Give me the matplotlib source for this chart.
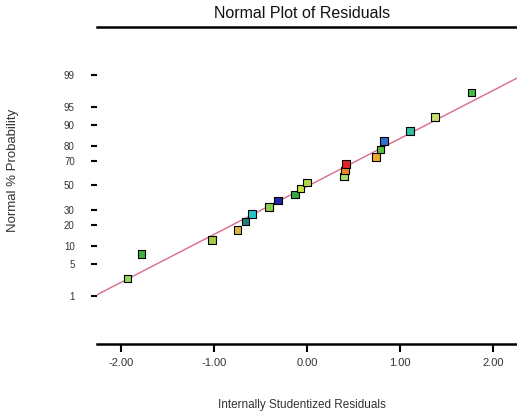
import matplotlib
matplotlib.use("Agg")
import matplotlib.pyplot as plt
import numpy as np
from statistics import NormalDist

plt.rcParams['font.family'] = ['Liberation Sans', 'DejaVu Sans']

# Data
residuals = [-1.93, -1.78, -1.02, -0.75, -0.66, -0.59, -0.41, -0.31, -0.13, -0.07,
             0.00, 0.40, 0.41, 0.42, 0.74, 0.79, 0.83, 1.11, 1.38, 1.77]
probabilities = [2.5, 7.5, 12.5, 17.5, 22.5, 27.5, 32.5, 37.5, 42.5, 47.5,
                 52.5, 57.5, 62.5, 67.5, 72.5, 77.5, 82.5, 87.5, 92.5, 97.5]
point_colors = ['#98d858', '#3cb040', '#a8c848', '#d8b448', '#1f7f80', '#28c4c8',
                '#88d048', '#2424a8', '#34a844', '#c8e048', '#b0d848', '#a8e070',
                '#f08828', '#e02424', '#f0a828', '#58c040', '#3070d0', '#30c0a0',
                '#c8e070', '#40c048']
prob_ticks = [1, 5, 10, 20, 30, 50, 70, 80, 90, 95, 99]
x_ticks = [-2.00, -1.00, 0.00, 1.00, 2.00]
fit_slope = 1.01
fit_intercept = -0.02

nd = NormalDist()
def probit(p):
    return nd.inv_cdf(p / 100.0)

W, H = 517, 416
fig = plt.figure(figsize=(W / 100, H / 100), dpi=100)
ax = fig.add_axes([97 / W, 1 - 344 / H, 420 / W, 317 / H])

xlim = (-2.26, 2.26)
ylim = (-3.34, 3.34)
ax.set_xlim(*xlim)
ax.set_ylim(*ylim)

# fitted line
xs = np.array(xlim)
ax.plot(xs, fit_intercept + fit_slope * xs, color='#d86a8c', lw=1.0, zorder=2)

# points
zs = [probit(p) for p in probabilities]
ax.scatter(residuals, zs, marker='s', s=30, c=point_colors,
           edgecolors='black', linewidths=0.8, zorder=3)

ax.set_yticks([probit(p) for p in prob_ticks])
ax.set_yticklabels([str(p) for p in prob_ticks])
ax.set_xticks(x_ticks)
ax.set_xticklabels([f"{v:.2f}" for v in x_ticks])

for s in ['left', 'right']:
    ax.spines[s].set_visible(False)
ax.spines['top'].set_linewidth(1.8)
ax.spines['bottom'].set_linewidth(1.8)

ax.tick_params(axis='y', length=4, width=1.5, pad=12, labelsize=7, colors='black',
               labelcolor='#333333')
ax.tick_params(axis='x', length=6, width=1.5, pad=4, labelsize=8, labelcolor='#333333')

fig.text(302 / W, 1 - 14 / H, 'Normal Plot of Residuals', ha='center', va='center',
         fontsize=11.5, color='#111111')
fig.text(302 / W, 1 - 405 / H, 'Internally Studentized Residuals', ha='center',
         va='center', fontsize=8.5, color='#333333')
fig.text(13 / W, 1 - 170 / H, 'Normal % Probability', ha='center', va='center',
         rotation=90, fontsize=9.5, color='#333333')

fig.savefig('out.png', dpi=100)
